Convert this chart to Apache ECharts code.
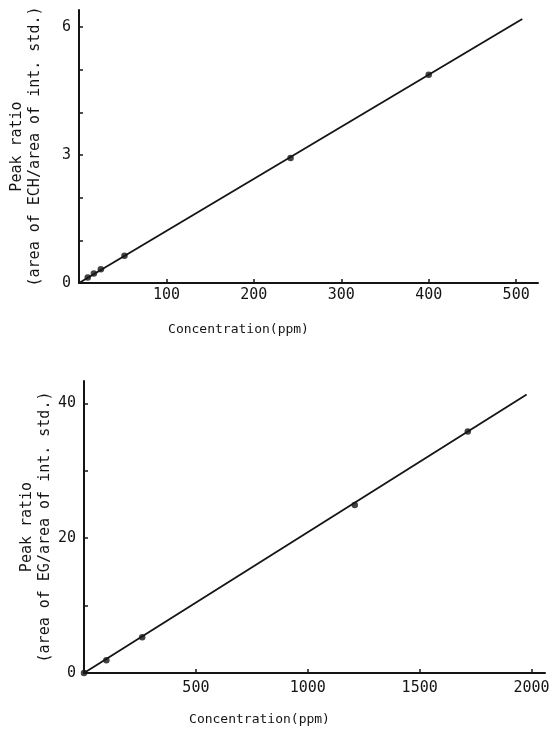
<!DOCTYPE html>
<html>
<head>
<meta charset="utf-8">
<script src="https://cdn.jsdelivr.net/npm/echarts@6/dist/echarts.min.js"></script>
<style>
html,body{margin:0;padding:0;background:#fff;}
#c{width:557px;height:731px;}
</style>
</head>
<body>
<div id="c"></div>
<script>
// Top panel (ECH)
const echPoints = [[10, 0.13], [17, 0.22], [25, 0.32], [52, 0.64], [242, 2.93], [400, 4.88]];
const echLine = [[0, 0], [507, 6.19]];
const echXTicks = [100, 200, 300, 400, 500];
const echYTicks = [1, 2, 3, 4, 5, 6];
const echYLabels = [0, 3, 6];
const echYName = 'Peak ratio\n(area of ECH/area of int. std.)';

// Bottom panel (EG)
const egPoints = [[0, 0], [100, 1.9], [260, 5.3], [1210, 24.9], [1715, 35.8]];
const egLine = [[0, 0], [1978, 41.3]];
const egXTicks = [500, 1000, 1500, 2000];
const egYTicks = [10, 20, 30, 40];
const egYLabels = [0, 20, 40];
const egYName = 'Peak ratio\n(area of EG/area of int. std.)';

const xName = 'Concentration(ppm)';

const INK = '#141414';
const MONO = '"DejaVu Sans Mono", "Liberation Mono", monospace';
const plain = v => String(v);

function xAxisDef(gridIndex, max, ticks, padRight, gap, margin) {
  return {
    type: 'value', gridIndex: gridIndex, min: 0, max: max,
    name: xName, nameLocation: 'middle', nameGap: gap, nameMoveOverlap: false,
    nameTextStyle: {color: INK, fontFamily: MONO, fontSize: 13, padding: [0, padRight, 0, 0]},
    axisLine: {show: true, onZero: false, lineStyle: {color: INK, width: 2}},
    axisTick: {show: true, inside: true, length: 4, lineStyle: {color: INK, width: 1.5}, customValues: ticks},
    axisLabel: {color: INK, fontFamily: MONO, fontSize: 15, margin: margin, customValues: ticks, formatter: plain},
    splitLine: {show: false}
  };
}
function yAxisDef(gridIndex, max, ticks, labels, name, gap) {
  return {
    type: 'value', gridIndex: gridIndex, min: 0, max: max,
    name: name, nameLocation: 'middle', nameGap: gap, nameRotate: 90, nameMoveOverlap: false,
    nameTextStyle: {color: INK, fontFamily: MONO, fontSize: 15, lineHeight: 18, align: 'center'},
    axisLine: {show: true, onZero: false, lineStyle: {color: INK, width: 2}},
    axisTick: {show: true, inside: true, length: 4, lineStyle: {color: INK, width: 1.5}, customValues: ticks},
    axisLabel: {color: INK, fontFamily: MONO, fontSize: 15, margin: 8, customValues: labels, formatter: plain},
    splitLine: {show: false}
  };
}

const chart = echarts.init(document.getElementById('c'), null, {renderer: 'canvas'});
chart.setOption({
  backgroundColor: '#fff',
  animation: false,
  grid: [
    {left: 79, top: 10, width: 459, height: 273},
    {left: 84, top: 381, width: 461, height: 292}
  ],
  xAxis: [
    xAxisDef(0, 525, echXTicks, 140, 40, 5),
    xAxisDef(1, 2060, egXTicks, 110, 40, 8)
  ],
  yAxis: [
    yAxisDef(0, 6.4, echYTicks, echYLabels, echYName, 35),
    yAxisDef(1, 43.3, egYTicks, egYLabels, egYName, 30)
  ],
  series: [
    {type: 'line', xAxisIndex: 0, yAxisIndex: 0, data: echLine, showSymbol: false,
     lineStyle: {color: INK, width: 1.8}},
    {type: 'scatter', xAxisIndex: 0, yAxisIndex: 0, data: echPoints, symbolSize: 6.5,
     itemStyle: {color: INK}},
    {type: 'line', xAxisIndex: 1, yAxisIndex: 1, data: egLine, showSymbol: false,
     lineStyle: {color: INK, width: 1.8}},
    {type: 'scatter', xAxisIndex: 1, yAxisIndex: 1, data: egPoints, symbolSize: 6.5,
     itemStyle: {color: INK}}
  ]
});
</script>
</body>
</html>
